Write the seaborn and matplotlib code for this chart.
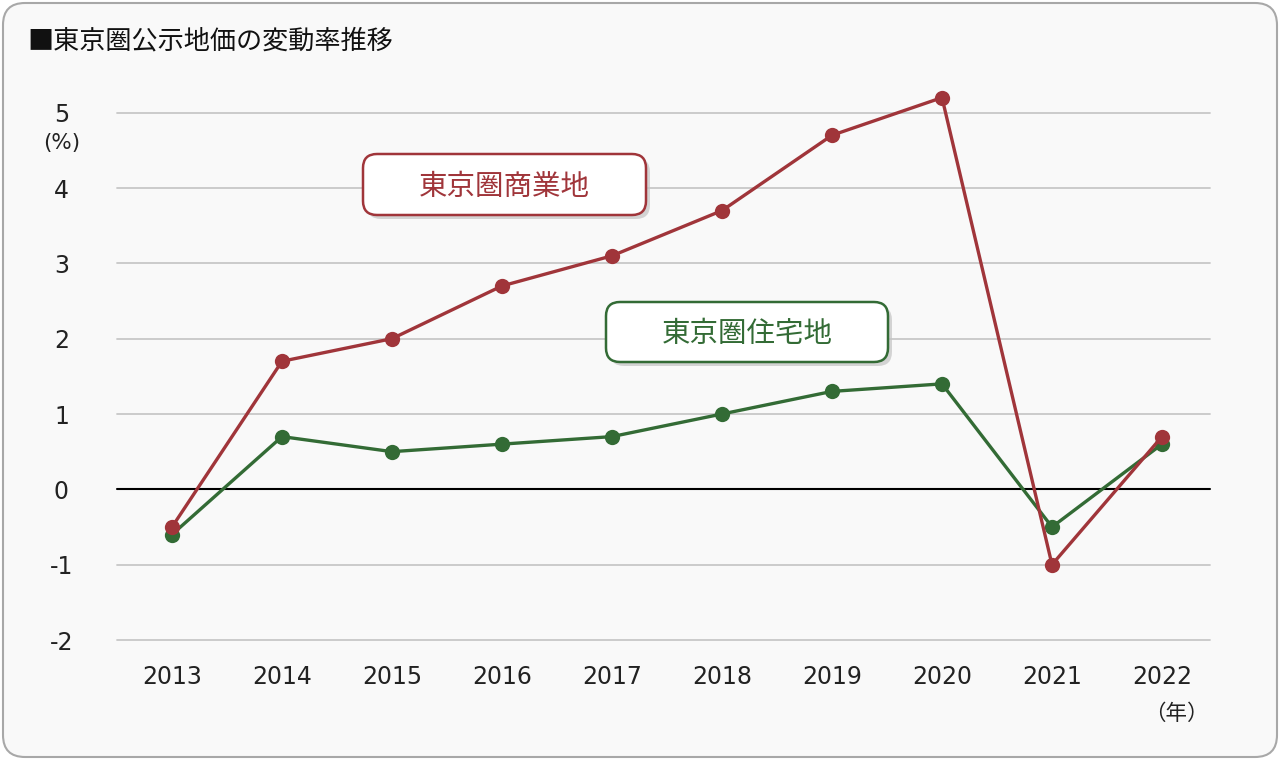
import numpy as np
import pandas as pd
import matplotlib
matplotlib.use("Agg")
import matplotlib.pyplot as plt
import seaborn as sns
from matplotlib.patches import FancyBboxPatch
from matplotlib.transforms import IdentityTransform

# data
years = [2013, 2014, 2015, 2016, 2017, 2018, 2019, 2020, 2021, 2022]
commercial = [-0.5, 1.7, 2.0, 2.7, 3.1, 3.7, 4.7, 5.2, -1.0, 0.7]
residential = [-0.6, 0.7, 0.5, 0.6, 0.7, 1.0, 1.3, 1.4, -0.5, 0.6]
series_names = ["東京圏住宅地", "東京圏商業地"]
yticks = [-2, -1, 0, 1, 2, 3, 4, 5]

RED = "#a0353a"
GREEN = "#336b35"
BG = "#f9f9f9"

df = pd.DataFrame({
    "year": [str(y) for y in years] * 2,
    "value": residential + commercial,
    "series": [series_names[0]] * len(years) + [series_names[1]] * len(years),
})

sns.set_theme(style="white")
plt.rcParams['font.family'] = ['Noto Sans CJK JP', 'DejaVu Sans']

W, H = 1280, 760
fig = plt.figure(figsize=(W / 100, H / 100), dpi=100)
fig.patch.set_facecolor("white")

# outer rounded frame
frame = FancyBboxPatch((3, 3), W - 6, H - 6, boxstyle="round,pad=0,rounding_size=22",
                       transform=IdentityTransform(), facecolor=BG,
                       edgecolor="#a8a8a8", linewidth=1.5, zorder=-10)
fig.add_artist(frame)

ax = fig.add_axes([117 / W, 120 / H, 1100 / W, 565 / H])
ax.set_facecolor("none")

for t in yticks:
    if t == 0:
        ax.axhline(t, xmax=0.994, color="black", lw=1.5, zorder=1)
    else:
        ax.axhline(t, xmax=0.994, color="#c8c8c8", lw=1.3, zorder=0)

sns.lineplot(data=df, x="year", y="value", hue="series", hue_order=series_names,
             palette=[GREEN, RED], marker="o", markersize=11, markeredgewidth=0,
             linewidth=2.4, ax=ax, legend=False, sort=False, zorder=3)
for line in ax.lines:
    line.set_clip_on(False)

ax.set_xlim(-0.5, len(years) - 0.5)
ax.set_ylim(-2.0, 5.5)
ax.set_yticks(yticks)
ax.set_yticklabels([str(t) for t in yticks])
ax.tick_params(axis="y", length=0, pad=40, labelsize=17, labelcolor="#222222")
ax.tick_params(axis="x", length=0, pad=18, labelsize=17, labelcolor="#222222")
for lab in ax.get_yticklabels() + ax.get_xticklabels():
    lab.set_family("DejaVu Sans")
for lab in ax.get_yticklabels():
    lab.set_horizontalalignment("center")
ax.set_xlabel("")
ax.set_ylabel("")
for s in ax.spines.values():
    s.set_visible(False)

fig.text(62 / W, 1 - 143 / H, "(%)", ha="center", va="center", fontsize=15.5,
         color="#222222", family="DejaVu Sans")
fig.text(1176 / W, 1 - 714 / H, "（年）", ha="center", va="center", fontsize=15.5, color="#222222")
fig.text(27 / W, 1 - 41 / H, "■東京圏公示地価の変動率推移", ha="left", va="center",
         fontsize=18.8, color="#111111")


def label_box(x0, y0, w, h, text, color):
    # pixel coordinates measured from top-left
    yb = H - y0 - h
    shadow = FancyBboxPatch((x0 + 4, yb - 4), w, h, boxstyle="round,pad=0,rounding_size=14",
                            transform=IdentityTransform(), facecolor="#c4c4c4",
                            edgecolor="none", alpha=0.7, zorder=4)
    box = FancyBboxPatch((x0, yb), w, h, boxstyle="round,pad=0,rounding_size=14",
                         transform=IdentityTransform(), facecolor="white",
                         edgecolor=color, linewidth=1.8, zorder=5)
    fig.add_artist(shadow)
    fig.add_artist(box)
    fig.text((x0 + w / 2) / W, 1 - (y0 + h / 2 + 2) / H, text, ha="center", va="center",
             fontsize=20.5, color=color, zorder=6)


label_box(363, 154, 283, 61, "東京圏商業地", RED)
label_box(606, 302, 282, 60, "東京圏住宅地", GREEN)

fig.savefig("out.png", dpi=100, facecolor="white")
